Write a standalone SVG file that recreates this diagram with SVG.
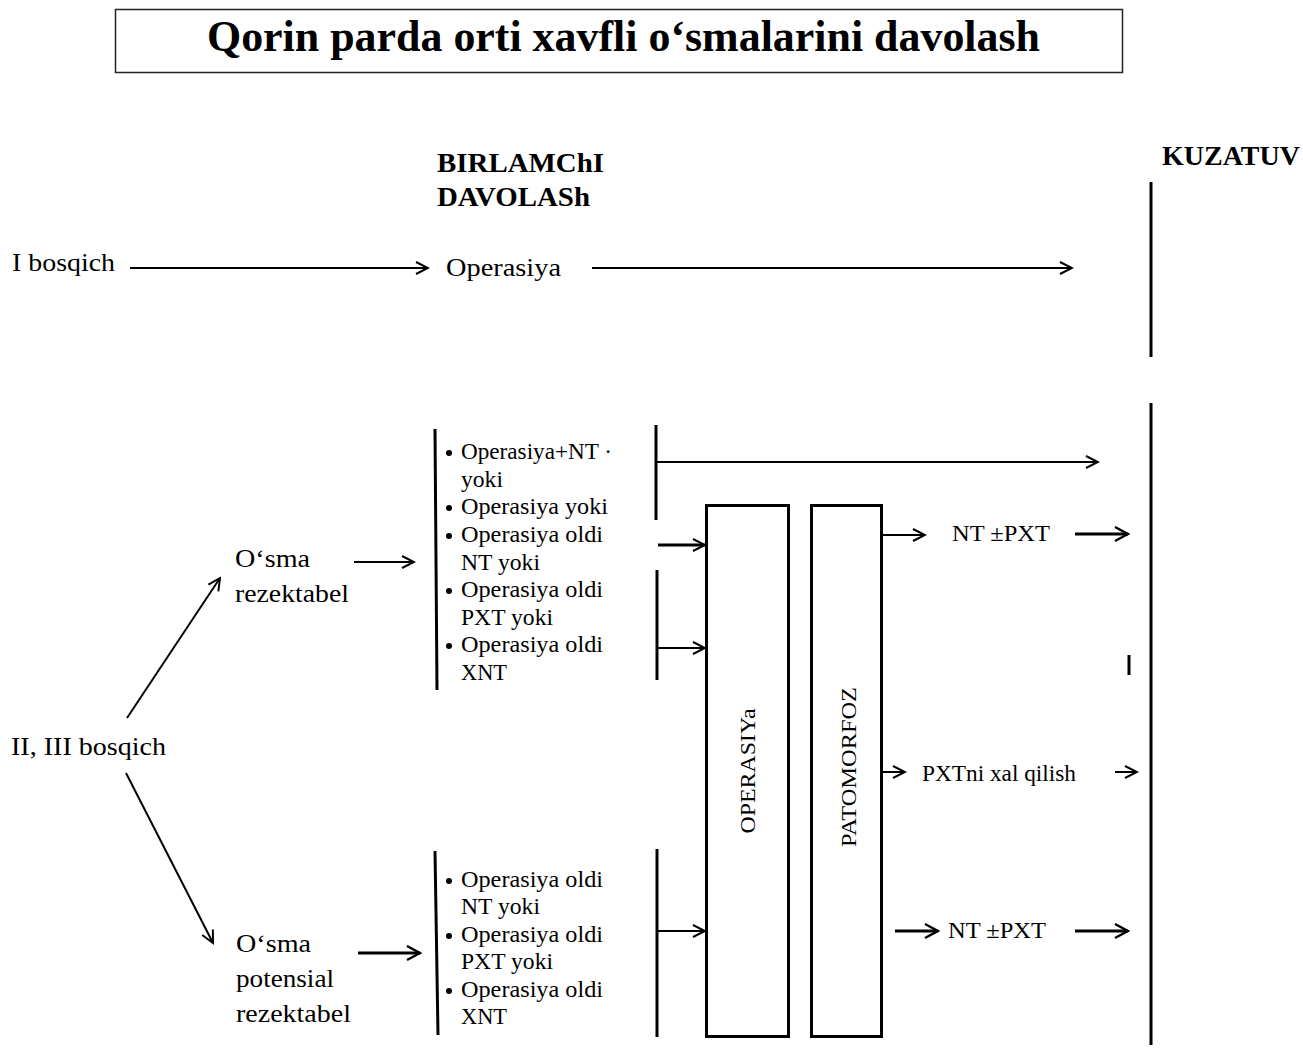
<svg xmlns="http://www.w3.org/2000/svg" width="1303" height="1050" viewBox="0 0 1303 1050">
<style>
text{font-family:"Liberation Serif","Times New Roman",serif;fill:#000}
.t{font-size:26px}
.l{font-size:23px}
.b{font-weight:bold}
.ln{stroke:#000;stroke-width:2;fill:none}
.th{stroke:#000;stroke-width:3;fill:none}
.bar{stroke:#000;stroke-width:3;fill:none}
.box{stroke:#000;stroke-width:3;fill:#fff}
</style>
<defs>
<marker id="ah" markerUnits="userSpaceOnUse" markerWidth="16" markerHeight="16" viewBox="0 0 16 16" refX="14" refY="8" orient="auto">
<path d="M2,2 L14,8 L2,14" stroke="#000" stroke-width="2" fill="none"/>
</marker>
<marker id="ah2" markerUnits="userSpaceOnUse" markerWidth="18" markerHeight="18" viewBox="0 0 18 18" refX="16" refY="9" orient="auto">
<path d="M3,2 L16,9 L3,16" stroke="#000" stroke-width="2.5" fill="none"/>
</marker>
</defs>
<rect width="1303" height="1050" fill="#fff"/>

<g id="title">
<rect x="115.5" y="9.5" width="1007" height="63" fill="none" stroke="#222" stroke-width="1.5"/>
<text x="207" y="51" class="b" font-size="44" textLength="833" lengthAdjust="spacingAndGlyphs">Qorin parda orti xavfli o‘smalarini davolash</text>
</g>

<g id="header-birlamchi">
<text x="437" y="172" class="b" font-size="27" textLength="167" lengthAdjust="spacingAndGlyphs">BIRLAMChI</text>
<text x="437" y="206" class="b" font-size="27" textLength="153" lengthAdjust="spacingAndGlyphs">DAVOLASh</text>
</g>
<g id="header-kuzatuv">
<text x="1162" y="165" class="b" font-size="27" textLength="138" lengthAdjust="spacingAndGlyphs">KUZATUV</text>
</g>

<g id="node-i-bosqich"><text x="12" y="271" class="t" textLength="103" lengthAdjust="spacingAndGlyphs">I bosqich</text></g>
<g id="node-operasiya"><text x="446" y="276" class="t" textLength="115" lengthAdjust="spacingAndGlyphs">Operasiya</text></g>
<g id="node-ii-iii"><text x="11" y="755" class="t" textLength="155" lengthAdjust="spacingAndGlyphs">II, III bosqich</text></g>
<g id="node-rezektabel">
<text x="235" y="567" class="t" textLength="75" lengthAdjust="spacingAndGlyphs">O‘sma</text>
<text x="235" y="602" class="t" textLength="114" lengthAdjust="spacingAndGlyphs">rezektabel</text>
</g>
<g id="node-potensial">
<text x="236" y="952" class="t" textLength="75" lengthAdjust="spacingAndGlyphs">O‘sma</text>
<text x="236" y="987" class="t" textLength="98" lengthAdjust="spacingAndGlyphs">potensial</text>
<text x="236" y="1022" class="t" textLength="115" lengthAdjust="spacingAndGlyphs">rezektabel</text>
</g>

<g id="list-top">
<path class="bar" d="M435,429 L437,690"/>
<circle cx="449" cy="453" r="3"/><text x="461" y="459" class="l" textLength="151" lengthAdjust="spacingAndGlyphs">Operasiya+NT ·</text>
<text x="461" y="487" class="l" textLength="42" lengthAdjust="spacingAndGlyphs">yoki</text>
<circle cx="449" cy="508" r="3"/><text x="461" y="514" class="l" textLength="147" lengthAdjust="spacingAndGlyphs">Operasiya yoki</text>
<circle cx="449" cy="536" r="3"/><text x="461" y="542" class="l" textLength="142" lengthAdjust="spacingAndGlyphs">Operasiya oldi</text>
<text x="461" y="570" class="l" textLength="79" lengthAdjust="spacingAndGlyphs">NT yoki</text>
<circle cx="449" cy="591" r="3"/><text x="461" y="597" class="l" textLength="142" lengthAdjust="spacingAndGlyphs">Operasiya oldi</text>
<text x="461" y="625" class="l" textLength="92" lengthAdjust="spacingAndGlyphs">PXT yoki</text>
<circle cx="449" cy="646" r="3"/><text x="461" y="652" class="l" textLength="142" lengthAdjust="spacingAndGlyphs">Operasiya oldi</text>
<text x="461" y="680" class="l" textLength="46" lengthAdjust="spacingAndGlyphs">XNT</text>
</g>

<g id="list-bottom">
<path class="bar" d="M435,851 L438,1035"/>
<circle cx="449" cy="881" r="3"/><text x="461" y="887" class="l" textLength="142" lengthAdjust="spacingAndGlyphs">Operasiya oldi</text>
<text x="461" y="914" class="l" textLength="79" lengthAdjust="spacingAndGlyphs">NT yoki</text>
<circle cx="449" cy="936" r="3"/><text x="461" y="942" class="l" textLength="142" lengthAdjust="spacingAndGlyphs">Operasiya oldi</text>
<text x="461" y="969" class="l" textLength="92" lengthAdjust="spacingAndGlyphs">PXT yoki</text>
<circle cx="449" cy="991" r="3"/><text x="461" y="997" class="l" textLength="142" lengthAdjust="spacingAndGlyphs">Operasiya oldi</text>
<text x="461" y="1024" class="l" textLength="46" lengthAdjust="spacingAndGlyphs">XNT</text>
</g>

<g id="box-operasiya">
<rect class="box" x="706.5" y="505.5" width="82" height="531"/>
<text transform="translate(755,771) rotate(-90)" text-anchor="middle" font-size="22" textLength="125" lengthAdjust="spacingAndGlyphs">OPERASIYa</text>
</g>
<g id="box-patomorfoz">
<rect class="box" x="811.5" y="505.5" width="70" height="531"/>
<text transform="translate(856,767) rotate(-90)" text-anchor="middle" font-size="22" textLength="160" lengthAdjust="spacingAndGlyphs">PATOMORFOZ</text>
</g>

<g id="node-nt-pxt-1"><text x="952" y="541" class="l" textLength="98" lengthAdjust="spacingAndGlyphs">NT ±PXT</text></g>
<g id="node-pxtni"><text x="922" y="781" class="l" textLength="154" lengthAdjust="spacingAndGlyphs">PXTni xal qilish</text></g>
<g id="node-nt-pxt-2"><text x="948" y="938" class="l" textLength="98" lengthAdjust="spacingAndGlyphs">NT ±PXT</text></g>

<g id="kuzatuv-bars">
<path class="bar" d="M1151,182 L1151,357"/>
<path class="bar" d="M1151,403 L1151,1045"/>
<path class="bar" d="M1129,655 L1129,675"/>
</g>

<g id="connectors">
<path class="ln" d="M130,268 L428,268" marker-end="url(#ah)"/>
<path class="ln" d="M592,268 L1072,268" marker-end="url(#ah)"/>
<path class="ln" d="M127,718 L220,578" marker-end="url(#ah)"/>
<path class="ln" d="M126,773 L213,943" marker-end="url(#ah)"/>
<path class="ln" d="M354,562 L414,562" marker-end="url(#ah)"/>
<path class="th" d="M358,953 L420,953" marker-end="url(#ah2)"/>
<path class="bar" d="M656,425 L656,520"/>
<path class="ln" d="M656,462 L1098,462" marker-end="url(#ah)"/>
<path class="th" d="M658,545 L705,545" marker-end="url(#ah)"/>
<path class="bar" d="M657,570 L657,680"/>
<path class="ln" d="M657,648 L705,648" marker-end="url(#ah)"/>
<path class="bar" d="M657,849 L657,1037"/>
<path class="ln" d="M657,931 L705,931" marker-end="url(#ah)"/>
<path class="ln" d="M882,535 L925,535" marker-end="url(#ah)"/>
<path class="th" d="M1075,534 L1128,534" marker-end="url(#ah2)"/>
<path class="ln" d="M882,772 L905,772" marker-end="url(#ah)"/>
<path class="ln" d="M1115,772 L1137,772" marker-end="url(#ah)"/>
<path class="th" d="M895,931 L938,931" marker-end="url(#ah2)"/>
<path class="th" d="M1075,931 L1128,931" marker-end="url(#ah2)"/>
</g>
</svg>
